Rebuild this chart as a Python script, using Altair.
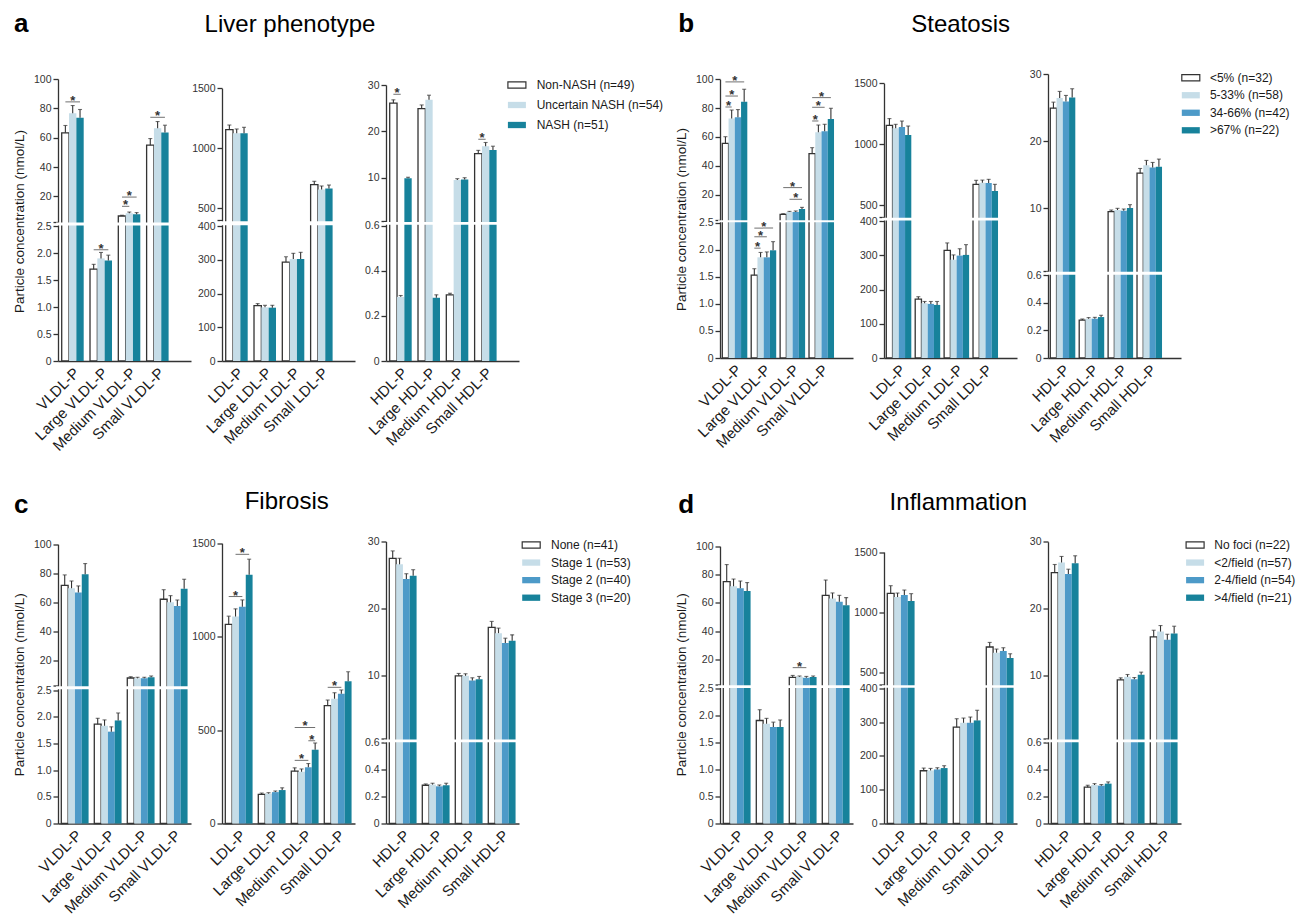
import altair as alt
import pandas as pd

FONT = "Liberation Sans"
INK = "#333333"
TXT = "#1a1a1a"
WHITE = "#ffffff"
LIGHT = "#c6dde8"
MID = "#4d9ac8"
TEAL = "#17829b"

VLDL_CATS = ["VLDL-P", "Large VLDL-P", "Medium VLDL-P", "Small VLDL-P"]
LDL_CATS = ["LDL-P", "Large LDL-P", "Medium LDL-P", "Small LDL-P"]
HDL_CATS = ["HDL-P", "Large HDL-P", "Medium HDL-P", "Small HDL-P"]

VLDL_TICKS = [0, 0.5, 1.0, 1.5, 2.0, 2.5, 20, 40, 60, 80, 100]
LDL_TICKS = [0, 100, 200, 300, 400, 500, 1000, 1500]
LDL_TICKS_NOBREAK = [0, 500, 1000, 1500]
HDL_TICKS = [0, 0.2, 0.4, 0.6, 10, 20, 30]

A_GROUPS = ["Non-NASH (n=49)", "Uncertain NASH (n=54)", "NASH (n=51)"]
B_GROUPS = ["<5% (n=32)", "5-33% (n=58)", "34-66% (n=42)", ">67% (n=22)"]
C_GROUPS = ["None (n=41)", "Stage 1 (n=53)", "Stage 2 (n=40)", "Stage 3 (n=20)"]
D_GROUPS = ["No foci (n=22)", "<2/field (n=57)", "2-4/field (n=54)", ">4/field (n=21)"]

A_COLORS = [WHITE, LIGHT, TEAL]
BCD_COLORS = [WHITE, LIGHT, MID, TEAL]

# ---- panel a : liver phenotype (rows = categories, columns = groups) ----
A_VLDL_MEAN = [[63.3, 76.7, 73.5], [1.70, 1.90, 1.86], [6.6, 8.4, 7.8], [54.9, 66.5, 63.5]]
A_VLDL_UP = [[68.3, 81.9, 79.2], [1.79, 2.01, 1.96], [7.1, 9.3, 8.9], [59.4, 71.0, 68.5]]
A_VLDL_SIG = [(0, 0, 2, 84.4), (1, 0, 2, 2.06), (2, 0, 1, 13.2), (2, 0, 2, 19.5), (3, 0, 2, 73.9)]
A_LDL_MEAN = [[1155, 1125, 1125], [164, 159, 158], [293, 302, 302], [697, 656, 664]]
A_LDL_UP = [[1194, 1161, 1175], [170, 165, 165], [309, 319, 322], [725, 686, 694]]
A_LDL_SIG = []
A_HDL_MEAN = [[26.1, 0.284, 9.9], [24.9, 26.8, 0.28], [0.293, 9.5, 9.6], [15.2, 16.8, 16.0]]
A_HDL_UP = [[26.8, 0.29, 10.1], [25.7, 27.8, 0.293], [0.30, 9.8, 10.0], [15.9, 17.6, 16.8]]
A_HDL_SIG = [(0, 0, 1, 28.0), (3, 0, 1, 18.3)]

# ---- panel b : steatosis ----
B_VLDL_MEAN = [[55.6, 72.9, 73.6, 84.5], [1.53, 1.86, 1.86, 1.99], [6.4, 8.0, 8.0, 10.1], [48.4, 63.2, 63.9, 72.5]]
B_VLDL_UP = [[60.2, 78.7, 79.0, 93.1], [1.65, 1.95, 1.96, 2.15], [6.8, 8.4, 8.7, 11.2], [52.6, 68.3, 68.8, 79.9]]
B_VLDL_SIG = [(0, 0, 3, 98.2), (0, 0, 2, 88.4), (0, 0, 1, 80.8),
              (1, 0, 3, 2.40), (1, 0, 2, 2.24), (1, 0, 1, 2.03),
              (2, 0, 3, 24.9), (2, 1, 3, 16.8),
              (3, 0, 3, 87.3), (3, 0, 2, 80.6), (3, 0, 1, 71.1)]
B_LDL_MEAN = [[1155, 1130, 1141, 1075], [172, 160, 158, 155], [314, 287, 299, 301], [670, 684, 681, 615]]
B_LDL_UP = [[1210, 1163, 1190, 1149], [179, 165, 165, 165], [336, 301, 319, 331], [703, 705, 711, 670]]
B_LDL_SIG = []
B_HDL_MEAN = [[24.9, 26.4, 25.9, 26.5], [0.275, 0.285, 0.285, 0.297], [9.45, 9.7, 9.6, 10.0], [15.2, 16.4, 16.05, 16.15]]
B_HDL_UP = [[25.8, 27.4, 26.8, 27.8], [0.283, 0.293, 0.295, 0.31], [9.7, 9.95, 9.85, 10.5], [15.9, 17.1, 16.8, 17.3]]
B_HDL_SIG = []

# ---- panel c : fibrosis ----
C_VLDL_MEAN = [[71.7, 69.7, 66.7, 79.3], [1.86, 1.83, 1.72, 1.93], [7.8, 7.6, 7.6, 8.3], [62.1, 60.0, 57.5, 69.4]]
C_VLDL_UP = [[78.9, 74.7, 71.3, 86.7], [1.97, 1.94, 1.81, 2.07], [8.7, 8.3, 8.3, 9.2], [68.7, 64.6, 61.6, 75.9]]
C_VLDL_SIG = []
C_LDL_MEAN = [[1066, 1108, 1161, 1332], [156, 160, 168, 179], [280, 277, 301, 395], [631, 668, 694, 762]]
C_LDL_UP = [[1110, 1149, 1197, 1415], [163, 165, 174, 191], [298, 292, 321, 431], [661, 700, 715, 812]]
C_LDL_SIG = [(0, 0, 2, 1215), (0, 1, 3, 1441), (2, 0, 3, 514), (2, 2, 3, 443), (2, 0, 2, 338), (3, 0, 2, 729)]
C_HDL_MEAN = [[27.5, 26.6, 24.4, 24.9], [0.284, 0.289, 0.276, 0.284], [10.0, 10.0, 9.3, 9.5], [17.2, 16.35, 14.9, 15.2]]
C_HDL_UP = [[28.6, 27.5, 25.2, 25.8], [0.294, 0.299, 0.286, 0.299], [10.35, 10.3, 9.7, 9.9], [18.1, 17.1, 15.6, 16.1]]
C_HDL_SIG = []

# ---- panel d : inflammation ----
D_VLDL_MEAN = [[75.1, 71.8, 70.4, 68.5], [1.91, 1.85, 1.79, 1.79], [7.5, 8.0, 7.3, 7.8], [65.4, 63.1, 60.9, 58.4]]
D_VLDL_UP = [[87.1, 76.9, 75.5, 74.4], [2.11, 1.95, 1.88, 1.92], [8.9, 8.5, 8.2, 8.5], [76.2, 67.1, 65.4, 63.8]]
D_VLDL_SIG = [(2, 0, 2, 14.4)]
D_LDL_MEAN = [[1157, 1127, 1144, 1094], [156, 157, 160, 164], [285, 298, 298, 305], [713, 666, 680, 622]]
D_LDL_UP = [[1221, 1160, 1185, 1155], [164, 163, 165, 171], [310, 312, 315, 335], [751, 696, 707, 657]]
D_LDL_SIG = []
D_HDL_MEAN = [[25.4, 26.9, 25.2, 26.8], [0.27, 0.286, 0.281, 0.296], [9.4, 9.85, 9.5, 10.15], [15.8, 16.6, 15.4, 16.3]]
D_HDL_UP = [[26.6, 27.8, 25.9, 27.9], [0.284, 0.296, 0.289, 0.309], [9.7, 10.2, 9.75, 10.55], [16.8, 17.5, 16.2, 17.4]]
D_HDL_SIG = []

Y_TITLE = "Particle concentration (nmol/L)"
LEGEND_SHAPE = "M-1,-0.35L1,-0.35L1,0.35L-1,0.35Z"

W = 133


def label_expr(brk, eps):
    base = ("datum.value == 0 ? '0' : (datum.value < 10 ? format(datum.value, '.1f') "
            ": format(datum.value, 'd'))")
    if brk is None:
        return base
    return f"(datum.value > {brk} && datum.value < {brk + 2 * eps}) ? '' : ({base})"


def sub_chart(cats, groups, colors, mean, up, sig, ticks, brk, top, rng, H, band,
              ytitle=None, title_y=None, texts=(), legend=None):
    pi, po, al = band
    n = len(groups)
    step = W / (len(cats) - pi + 2 * po)
    band_w = step * (1 - pi)
    bw = band_w / n

    def off(pos):
        # pixel offset (from the band centre) of a position measured in bar widths
        return (pos - (n - 1) / 2) * bw

    rows = []
    for i, c in enumerate(cats):
        for j, g in enumerate(groups):
            rows.append({"cat": c, "grp": g, "mean": mean[i][j], "up": up[i][j]})
    df = pd.DataFrame(rows)

    if brk is not None:
        eps = brk * 1e-4
        domain = [0, brk, brk + eps, top]
        values = list(ticks) + [brk + eps]
    else:
        eps = 0
        domain = [0, top]
        values = list(ticks)
    ysc = alt.Scale(domain=domain, range=rng, zero=False, nice=False)
    yax_kw = dict(values=values, labelExpr=label_expr(brk, eps), grid=False,
                  tickSize=5, tickWidth=1.3, domainWidth=1.3, labelPadding=2,
                  labelFontSize=10.5, labelColor=INK, tickColor=INK, domainColor=INK)
    if ytitle:
        yax = alt.Axis(title=ytitle, titleX=-38.5, titleY=title_y, titleAngle=270,
                       titleAlign="center", titleBaseline="middle", titleFontSize=13.5,
                       titleFontWeight="normal", titleColor=TXT, **yax_kw)
    else:
        yax = alt.Axis(title="", **yax_kw)

    xax = alt.Axis(title="", ticks=False, labelAngle=-45, labelAlign="right",
                   labelBaseline="middle", labelPadding=9, labelOffset=4, labelFontSize=15,
                   labelColor=TXT, domainColor=INK, domainWidth=1.3, labelLimit=300)
    xenc = alt.X("cat:N", sort=cats,
                 scale=alt.Scale(type="band", domain=cats, paddingInner=pi,
                                 paddingOuter=po, align=al),
                 axis=xax)

    def Y(field):
        return alt.Y(field, scale=ysc, axis=yax)

    layers = []
    for j, g in enumerate(groups):
        gdf = df[df["grp"] == g]
        white = colors[j] == WHITE
        layers.append(alt.Chart(gdf).mark_bar(
            width=bw, xOffset=off(j), fill=colors[j],
            stroke=INK if white else colors[j], strokeWidth=1.3 if white else 0).encode(
            x=xenc, y=Y("mean:Q")))
        layers.append(alt.Chart(gdf).mark_rule(
            xOffset=off(j), color=INK, strokeWidth=1.1).encode(
            x=xenc, y=Y("mean:Q"), y2="up:Q"))
        layers.append(alt.Chart(gdf).mark_tick(
            xOffset=off(j), color=INK, thickness=1.1, size=4,
            orient="horizontal").encode(x=xenc, y=Y("up:Q")))
    if brk is not None:
        bdf = pd.DataFrame({"b1": [brk + eps * 0.15], "b2": [brk + eps * 0.85]})
        layers.append(alt.Chart(bdf).mark_rect(fill="white").encode(
            y=Y("b1:Q"), y2="b2:Q", x=alt.value(-2), x2=alt.value(W + 1)))
    if sig:
        sdf = pd.DataFrame([{"cat": cats[ci], "g0": g0, "g1": g1, "yb": yv}
                            for (ci, g0, g1, yv) in sig])
        for (g0, g1), part in sdf.groupby(["g0", "g1"]):
            mid = off((g0 + g1) / 2)
            layers.append(alt.Chart(part).mark_tick(
                xOffset=mid, size=(g1 - g0) * bw, thickness=1, color=INK,
                orient="horizontal").encode(x=xenc, y=Y("yb:Q")))
            layers.append(alt.Chart(part).mark_text(
                text="*", xOffset=mid, fontSize=13, fontWeight="bold", color=INK,
                baseline="alphabetic", dy=3).encode(x=xenc, y=Y("yb:Q")))
    for (txt, tx, ty, size, weight, align) in texts:
        layers.append(alt.Chart(pd.DataFrame({"t": [txt]})).mark_text(
            fontSize=size, fontWeight=weight, align=align, baseline="alphabetic",
            color="black").encode(x=alt.value(tx), y=alt.value(ty), text="t:N"))

    main = alt.layer(*layers)
    if legend is None:
        return main.properties(width=W, height=H)

    sx, tx, y0, y1 = legend
    ldf = pd.DataFrame({"grp": groups, "fillc": colors,
                        "strokec": [INK if c == WHITE else c for c in colors],
                        "sw": [1.2 if c == WHITE else 0.0 for c in colors]})
    ly = alt.Y("grp:N", sort=groups,
               scale=alt.Scale(domain=groups, range=[y0, y1], padding=0), axis=None)
    sw_layer = alt.Chart(ldf).mark_point(shape=LEGEND_SHAPE, filled=True, size=324,
                                         opacity=1).encode(
        x=alt.value(sx), y=ly,
        fill=alt.Fill("fillc:N", scale=None),
        stroke=alt.Stroke("strokec:N", scale=None),
        strokeWidth=alt.StrokeWidth("sw:Q", scale=None))
    tx_layer = alt.Chart(ldf).mark_text(align="left", baseline="middle", fontSize=12,
                                        color=TXT).encode(
        x=alt.value(tx), y=ly, text="grp:N")
    return alt.layer(main, alt.layer(sw_layer, tx_layer)).resolve_scale(
        y="independent").properties(width=W, height=H)


def panel(groups, colors, data, H, band, ranges, title_y, letter, title, legend):
    (vm, vu, vs), (lm, lu, ls), (hm, hu, hs) = data
    (vr, lr, hr) = ranges
    lx, ly, ttx, tty = letter[1], letter[2], title[1], title[2]
    s1 = sub_chart(VLDL_CATS, groups, colors, vm, vu, vs, VLDL_TICKS, 2.5, 100, vr, H, band,
                   ytitle=Y_TITLE, title_y=title_y,
                   texts=[(letter[0], lx, ly, 26, "bold", "left"),
                          (title[0], ttx, tty, 24, "normal", "center")])
    if len(lr) == 2:
        s2 = sub_chart(LDL_CATS, groups, colors, lm, lu, ls, LDL_TICKS_NOBREAK, None, 1500,
                       lr, H, band)
    else:
        s2 = sub_chart(LDL_CATS, groups, colors, lm, lu, ls, LDL_TICKS, 400, 1500, lr, H, band)
    s3 = sub_chart(HDL_CATS, groups, colors, hm, hu, hs, HDL_TICKS, 0.6, 30, hr, H, band,
                   legend=legend)
    return [s1, s2, s3]


pa = panel(A_GROUPS, A_COLORS,
           [(A_VLDL_MEAN, A_VLDL_UP, A_VLDL_SIG), (A_LDL_MEAN, A_LDL_UP, A_LDL_SIG),
            (A_HDL_MEAN, A_HDL_UP, A_HDL_SIG)],
           287, (0.223, 0.461, 0.142),
           ([287, 152, 148, 5], [287, 152, 146.3, 14.3], [287, 151.5, 147.3, 11]),
           147, ("a", -44, -42.3), ("Liver phenotype", 232, -42.3),
           (130.9, 150.7, 11, 51))
pb = panel(B_GROUPS, BCD_COLORS,
           [(B_VLDL_MEAN, B_VLDL_UP, B_VLDL_SIG), (B_LDL_MEAN, B_LDL_UP, B_LDL_SIG),
            (B_HDL_MEAN, B_HDL_UP, B_HDL_SIG)],
           284, (0.135, 0.368, 0.108),
           ([284, 148.7, 145.9, 5.3], [284, 147, 143.2, 9.3], [284, 201.3, 197, 0]),
           145, ("b", -41.7, -42.3), ("Steatosis", 240.6, -42.3),
           (142.8, 161.9, 3.7, 56.3))
pc = panel(C_GROUPS, BCD_COLORS,
           [(C_VLDL_MEAN, C_VLDL_UP, C_VLDL_SIG), (C_LDL_MEAN, C_LDL_UP, C_LDL_SIG),
            (C_HDL_MEAN, C_HDL_UP, C_HDL_SIG)],
           282, (0.173, 0.102, 0.49),
           ([282, 148.5, 144.2, 2.8], [282, 1.8], [282, 201.2, 197.4, 0]),
           142.8, ("c", -44, -28.8), ("Fibrosis", 228.7, -32.8),
           (145.2, 165, 3.5, 56.2))
pd_ = panel(D_GROUPS, BCD_COLORS,
            [(D_VLDL_MEAN, D_VLDL_UP, D_VLDL_SIG), (D_LDL_MEAN, D_LDL_UP, D_LDL_SIG),
             (D_HDL_MEAN, D_HDL_UP, D_HDL_SIG)],
            282, (0.173, 0.102, 0.49),
            ([282, 147.2, 143, 4.8], [282, 146.8, 143.3, 10.5], [282, 201.2, 197.4, 0.2]),
            142.8, ("d", -41.7, -28.8), ("Inflammation", 238.3, -31.2),
            (147.1, 166.3, 3.5, 56.2))


def spacer():
    return alt.Chart(pd.DataFrame({"v": [0]})).mark_point(opacity=0).encode(
        x=alt.value(0), y=alt.value(0)).properties(width=138.4, height=282)


cells = pa + [spacer()] + pb + pc + [spacer()] + pd_
chart = alt.concat(*cells, columns=7, spacing={"row": 180.5, "column": 31},
                   bounds="flush").properties(
    padding={"left": 4, "top": 2, "right": 5, "bottom": 0}
).configure(font=FONT).configure_view(strokeWidth=0, stroke="transparent")

chart.save("out.html", embed_options={"renderer": "svg", "actions": False})
